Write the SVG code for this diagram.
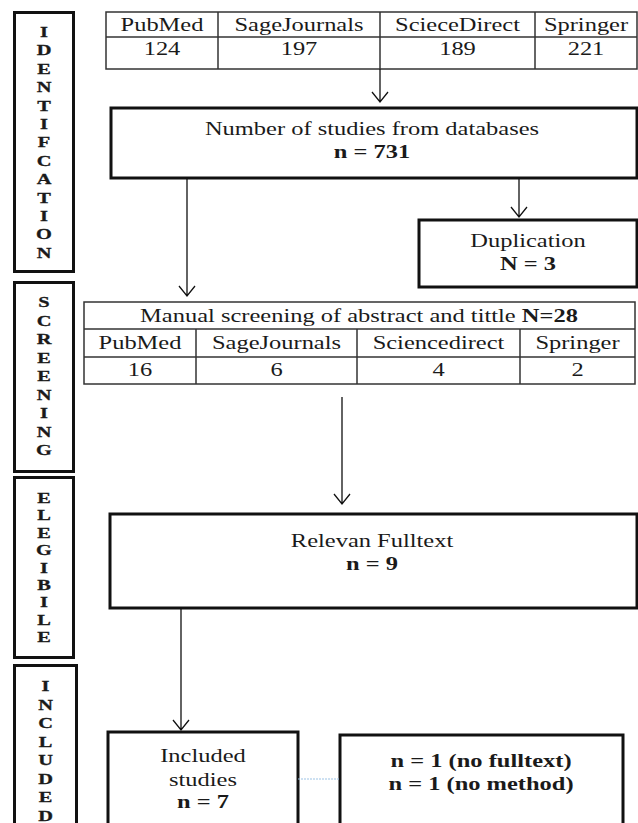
<svg xmlns="http://www.w3.org/2000/svg" width="638" height="823" viewBox="0 0 638 823">
<style>
  .t{font-family:"Liberation Serif","Times New Roman",serif;font-size:18px;fill:#1a1a1a;text-anchor:middle}
  .b{font-weight:bold}
  .v{font-family:"Liberation Serif","Times New Roman",serif;font-size:15px;font-weight:bold;fill:#1a1a1a;stroke:#1a1a1a;stroke-width:0.3;text-anchor:middle}
  .box{fill:#fff;stroke:#111;stroke-width:3}
  .tbl{fill:none;stroke:#333;stroke-width:1.5}
  .conn{fill:none;stroke:#111;stroke-width:1.3}
  .dot{fill:none;stroke:#9dc3e6;stroke-width:1.2;stroke-dasharray:2 1}
</style>
<rect width="638" height="823" fill="#fff"/>

<g id="stage-identification">
  <rect class="box" x="14.5" y="12.5" width="59" height="259"/>
  <text class="v" transform="translate(44,37) scale(1.36,1)">I</text>
  <text class="v" transform="translate(44,55.4) scale(1.36,1)">D</text>
  <text class="v" transform="translate(44,73.8) scale(1.36,1)">E</text>
  <text class="v" transform="translate(44,92.2) scale(1.36,1)">N</text>
  <text class="v" transform="translate(44,110.6) scale(1.36,1)">T</text>
  <text class="v" transform="translate(44,129) scale(1.36,1)">I</text>
  <text class="v" transform="translate(44,147.4) scale(1.36,1)">F</text>
  <text class="v" transform="translate(44,165.8) scale(1.36,1)">C</text>
  <text class="v" transform="translate(44,184.2) scale(1.36,1)">A</text>
  <text class="v" transform="translate(44,202.6) scale(1.36,1)">T</text>
  <text class="v" transform="translate(44,221) scale(1.36,1)">I</text>
  <text class="v" transform="translate(44,239.4) scale(1.36,1)">O</text>
  <text class="v" transform="translate(44,257.8) scale(1.36,1)">N</text>
</g>
<g id="stage-screening">
  <rect class="box" x="14.5" y="282.5" width="59" height="189"/>
  <text class="v" transform="translate(44,307) scale(1.36,1)">S</text>
  <text class="v" transform="translate(44,325.5) scale(1.36,1)">C</text>
  <text class="v" transform="translate(44,344) scale(1.36,1)">R</text>
  <text class="v" transform="translate(44,362.5) scale(1.36,1)">E</text>
  <text class="v" transform="translate(44,381) scale(1.36,1)">E</text>
  <text class="v" transform="translate(44,399.5) scale(1.36,1)">N</text>
  <text class="v" transform="translate(44,418) scale(1.36,1)">I</text>
  <text class="v" transform="translate(44,436.5) scale(1.36,1)">N</text>
  <text class="v" transform="translate(44,455) scale(1.36,1)">G</text>
</g>
<g id="stage-elegibile">
  <rect class="box" x="14.5" y="477.5" width="59" height="180"/>
  <text class="v" transform="translate(44,503) scale(1.36,1)">E</text>
  <text class="v" transform="translate(44,520.4) scale(1.36,1)">L</text>
  <text class="v" transform="translate(44,537.8) scale(1.36,1)">E</text>
  <text class="v" transform="translate(44,555.2) scale(1.36,1)">G</text>
  <text class="v" transform="translate(44,572.6) scale(1.36,1)">I</text>
  <text class="v" transform="translate(44,590) scale(1.36,1)">B</text>
  <text class="v" transform="translate(44,607.4) scale(1.36,1)">I</text>
  <text class="v" transform="translate(44,624.8) scale(1.36,1)">L</text>
  <text class="v" transform="translate(44,642.2) scale(1.36,1)">E</text>
</g>
<g id="stage-included">
  <rect class="box" x="14.5" y="665.5" width="62" height="170"/>
  <text class="v" transform="translate(45.5,691) scale(1.36,1)">I</text>
  <text class="v" transform="translate(45.5,709.5) scale(1.36,1)">N</text>
  <text class="v" transform="translate(45.5,728) scale(1.36,1)">C</text>
  <text class="v" transform="translate(45.5,746.5) scale(1.36,1)">L</text>
  <text class="v" transform="translate(45.5,765) scale(1.36,1)">U</text>
  <text class="v" transform="translate(45.5,783.5) scale(1.36,1)">D</text>
  <text class="v" transform="translate(45.5,802) scale(1.36,1)">E</text>
  <text class="v" transform="translate(45.5,821) scale(1.36,1)">D</text>
</g>

<g id="databases-table">
  <rect class="tbl" x="106" y="12" width="531" height="57"/>
  <line class="tbl" x1="106" y1="37" x2="637" y2="37"/>
  <line class="tbl" x1="218" y1="12" x2="218" y2="69"/>
  <line class="tbl" x1="380" y1="12" x2="380" y2="69"/>
  <line class="tbl" x1="535" y1="12" x2="535" y2="69"/>
  <text class="t" transform="translate(162,31) scale(1.36,1)">PubMed</text>
  <text class="t" transform="translate(299,31) scale(1.36,1)">SageJournals</text>
  <text class="t" transform="translate(457.5,31) scale(1.36,1)">ScieceDirect</text>
  <text class="t" transform="translate(586,31) scale(1.36,1)">Springer</text>
  <text class="t" transform="translate(162,55) scale(1.36,1)">124</text>
  <text class="t" transform="translate(299,55) scale(1.36,1)">197</text>
  <text class="t" transform="translate(457.5,55) scale(1.36,1)">189</text>
  <text class="t" transform="translate(586,55) scale(1.36,1)">221</text>
</g>

<g id="studies-from-databases">
  <rect class="box" x="111" y="108" width="526" height="70"/>
  <text class="t" transform="translate(372,135) scale(1.36,1)">Number of studies from databases</text>
  <text class="t b" transform="translate(372,158) scale(1.36,1)">n = 731</text>
</g>

<g id="duplication">
  <rect class="box" x="419" y="220" width="218" height="67"/>
  <text class="t" transform="translate(528,247) scale(1.36,1)">Duplication</text>
  <text class="t b" transform="translate(528,270) scale(1.36,1)">N = 3</text>
</g>

<g id="screening-table">
  <rect class="tbl" x="84" y="302" width="551" height="82"/>
  <line class="tbl" x1="84" y1="329" x2="635" y2="329"/>
  <line class="tbl" x1="84" y1="357" x2="635" y2="357"/>
  <line class="tbl" x1="196" y1="329" x2="196" y2="384"/>
  <line class="tbl" x1="357" y1="329" x2="357" y2="384"/>
  <line class="tbl" x1="520" y1="329" x2="520" y2="384"/>
  <text class="t" transform="translate(359,322) scale(1.36,1)">Manual screening of abstract and tittle <tspan class="b">N=28</tspan></text>
  <text class="t" transform="translate(140,349) scale(1.36,1)">PubMed</text>
  <text class="t" transform="translate(276.5,349) scale(1.36,1)">SageJournals</text>
  <text class="t" transform="translate(438.5,349) scale(1.36,1)">Sciencedirect</text>
  <text class="t" transform="translate(577.5,349) scale(1.36,1)">Springer</text>
  <text class="t" transform="translate(140,376) scale(1.36,1)">16</text>
  <text class="t" transform="translate(276.5,376) scale(1.36,1)">6</text>
  <text class="t" transform="translate(438.5,376) scale(1.36,1)">4</text>
  <text class="t" transform="translate(577.5,376) scale(1.36,1)">2</text>
</g>

<g id="relevan-fulltext">
  <rect class="box" x="110" y="514" width="527" height="94"/>
  <text class="t" transform="translate(372,547) scale(1.36,1)">Relevan Fulltext</text>
  <text class="t b" transform="translate(372,570) scale(1.36,1)">n = 9</text>
</g>

<g id="included-studies">
  <rect class="box" x="108" y="732" width="190" height="100"/>
  <text class="t" transform="translate(203,762) scale(1.36,1)">Included</text>
  <text class="t" transform="translate(203,786) scale(1.36,1)">studies</text>
  <text class="t b" transform="translate(203,808) scale(1.36,1)">n = 7</text>
</g>

<g id="excluded">
  <rect class="box" x="340" y="735" width="283" height="97"/>
  <text class="t b" transform="translate(481,767) scale(1.36,1)">n = 1 (no fulltext)</text>
  <text class="t b" transform="translate(481,790) scale(1.36,1)">n = 1 (no method)</text>
</g>

<g id="connectors">
  <path class="conn" d="M380,69 V102 M372,92 L380,102 L388,92"/>
  <path class="conn" d="M187,178 V296 M179,286 L187,296 L195,286"/>
  <path class="conn" d="M519,178 V217 M511,207 L519,217 L527,207"/>
  <path class="conn" d="M342,397 V504 M334,494 L342,504 L350,494"/>
  <path class="conn" d="M181,608 V730 M173,720 L181,730 L189,720"/>
  <line class="dot" x1="298" y1="779" x2="340" y2="779"/>
</g>
</svg>
